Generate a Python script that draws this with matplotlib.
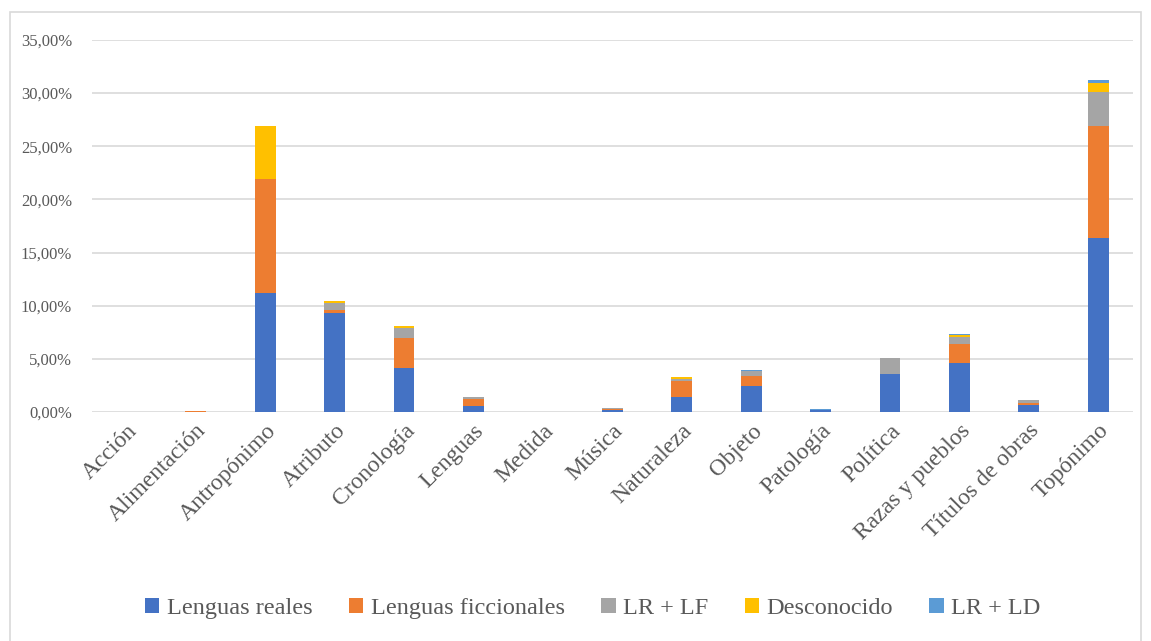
import numpy as np
import matplotlib.pyplot as plt
from matplotlib.ticker import FuncFormatter
from matplotlib.patches import Rectangle

categorias = ["Acción", "Alimentación", "Antropónimo", "Atributo", "Cronología",
              "Lenguas", "Medida", "Música", "Naturaleza", "Objeto", "Patología",
              "Política", "Razas y pueblos", "Títulos de obras", "Topónimo"]

lenguas_reales = [0.0, 0.0, 11.17, 9.34, 4.17, 0.60, 0.0, 0.15, 1.44, 2.48, 0.22, 3.60, 4.64, 0.66, 16.34]
lenguas_ficcionales = [0.0, 0.10, 10.72, 0.23, 2.76, 0.65, 0.0, 0.10, 1.51, 0.88, 0.0, 0.0, 1.79, 0.21, 10.59]
lr_lf = [0.0, 0.0, 0.0, 0.70, 1.00, 0.19, 0.04, 0.10, 0.19, 0.47, 0.0, 1.48, 0.63, 0.23, 3.20]
desconocido = [0.0, 0.0, 5.04, 0.13, 0.19, 0.0, 0.0, 0.05, 0.15, 0.0, 0.0, 0.0, 0.18, 0.0, 0.82]
lr_ld = [0.0, 0.0, 0.0, 0.0, 0.0, 0.0, 0.0, 0.0, 0.0, 0.09, 0.03, 0.0, 0.10, 0.0, 0.31]

series = [
    ("Lenguas reales", lenguas_reales, "#4472c4"),
    ("Lenguas ficcionales", lenguas_ficcionales, "#ed7d31"),
    ("LR + LF", lr_lf, "#a5a5a5"),
    ("Desconocido", desconocido, "#ffc000"),
    ("LR + LD", lr_ld, "#5b9bd5"),
]

plt.rcParams['font.family'] = ['Liberation Serif', 'DejaVu Serif']

fig = plt.figure(figsize=(11.51, 6.41), dpi=100)
ax = fig.add_axes([0.0796, 0.3573, 0.9048, 0.5803])

x = np.arange(len(categorias))
bottom = np.zeros(len(categorias))
for nombre, vals, color in series:
    vals = np.array(vals)
    ax.bar(x, vals, 0.3, bottom=bottom, color=color, label=nombre, zorder=3)
    bottom += vals

ax.set_xlim(-0.5, len(categorias) - 0.5)
ax.set_ylim(0, 35)
ax.set_yticks(np.arange(0, 36, 5))
ax.yaxis.set_major_formatter(FuncFormatter(lambda v, p: f"{v:.2f}".replace(".", ",") + "%"))
ax.grid(axis='y', color='#d9d9d9', linewidth=1.2, zorder=0)
for s in ax.spines.values():
    s.set_visible(False)
ax.tick_params(axis='both', length=0, colors='#595959')
ax.tick_params(axis='y', labelsize=12, pad=14)
ax.set_xticks(x)
ax.set_xticklabels(categorias, rotation=45, ha='right', rotation_mode='anchor', fontsize=17)
ax.tick_params(axis='x', pad=6)

fig.legend(loc='center', bbox_to_anchor=(0.515, 0.051), ncol=5, frameon=False,
           fontsize=17.5, handlelength=0.6, handleheight=0.6, handletextpad=0.3,
           columnspacing=1.5, labelcolor='#595959')

fig.patches.append(Rectangle((10 / 1151, -0.01), 1131 / 1151, 1 - 12 / 641 + 0.01,
                             transform=fig.transFigure, fill=False,
                             edgecolor='#d9d9d9', linewidth=1.2))

fig.savefig("out.png", dpi=100)
